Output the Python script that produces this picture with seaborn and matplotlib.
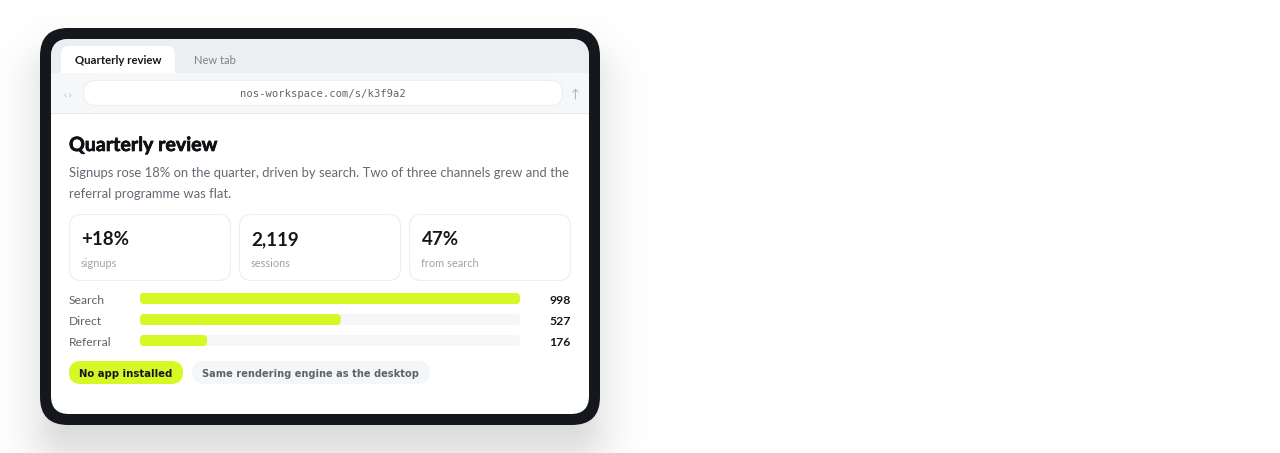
import numpy as np
import pandas as pd
import matplotlib
matplotlib.use("Agg")
import matplotlib.pyplot as plt
import matplotlib.patheffects as pe
from matplotlib.patches import FancyBboxPatch, Rectangle
import seaborn as sns

channels = ["Search", "Direct", "Referral"]
signups = [998, 527, 176]
stat_values = ["+18%", "2,119", "47%"]
stat_labels = ["signups", "sessions", "from search"]
title = "Quarterly review"
lede = ["Signups rose 18% on the quarter, driven by search. Two of three channels grew and the",
        "referral programme was flat."]
url = "nos-workspace.com/s/k3f9a2"
tabs = ["Quarterly review", "New tab"]
chips = ["No app installed", "Same rendering engine as the desktop"]

W, H = 1280, 453
LIME, INK = "#d6f925", "#14181d"
SANS = "Lato"

sns.set_theme(style="white")
plt.rcParams["font.family"] = [SANS, "DejaVu Sans"]
fig = plt.figure(figsize=(W / 100, H / 100), dpi=100, facecolor="white")
ax = fig.add_axes([0, 0, 1, 1])
ax.set_xlim(0, W); ax.set_ylim(H, 0); ax.axis("off")


def rr(x0, y0, x1, y1, r, fc, ec="none", lw=0, z=2):
    p = FancyBboxPatch((x0, y0), x1 - x0, y1 - y0, boxstyle=f"round,pad=0,rounding_size={r}",
                       fc=fc, ec=ec, lw=lw, zorder=z)
    ax.add_patch(p)
    return p


def tx(x, y, s, size, color, weight="normal", ha="left", family=None, stroke=0, **kw):
    t = ax.text(x, y, s, fontsize=size, color=color, fontweight=weight, ha=ha, va="baseline",
                family=family or [SANS, "DejaVu Sans"], zorder=6, **kw)
    if stroke:
        t.set_path_effects([pe.withStroke(linewidth=stroke, foreground=color)])
    return t


# soft drop shadow of the device
xx, yy = np.meshgrid(np.arange(W) + .5, np.arange(H) + .5)
cx, cy, hw, hh, rad = 320, 256, 280, 198, 28
qx, qy = np.abs(xx - cx) - (hw - rad), np.abs(yy - cy) - (hh - rad)
sd = np.hypot(np.maximum(qx, 0), np.maximum(qy, 0)) + np.minimum(np.maximum(qx, qy), 0) - rad
alpha = 0.17 / (1 + np.exp(sd / 14))
rgba = np.zeros((H, W, 4)); rgba[..., :3] = 0.07; rgba[..., 3] = alpha
ax.imshow(rgba, extent=(0, W, H, 0), zorder=0, aspect="auto", interpolation="bilinear")
ax.set_xlim(0, W); ax.set_ylim(H, 0)

# device frame and screen
rr(40, 28, 600, 425, 28, INK, z=1)
screen = rr(51, 39, 589, 414, 18, "white", z=1.5)

# browser chrome
bar = Rectangle((51, 39), 538, 34, fc="#eceef2", ec="none", zorder=1.6)
ax.add_patch(bar); bar.set_clip_path(screen)
rr(61, 46, 175, 90, 8, "white", z=1.7)
tool = Rectangle((51, 73), 538, 40, fc="#f6f7f9", ec="none", zorder=1.8)
ax.add_patch(tool)
ax.add_patch(Rectangle((51, 113), 538, 1, fc="#e8eaed", ec="none", zorder=1.9))
rr(83.5, 80.5, 562.5, 105.5, 12.5, "white", ec="#eceef0", lw=0.8, z=2)

tx(118.5, 64, tabs[0], 8.2, "#14181d", weight="bold", ha="center")
tx(215, 64, tabs[1], 8.0, "#7d838b", ha="center")
tx(68, 98, "‹ ›", 6.5, "#a8adb4", ha="center")
tx(575, 98, "↑", 8.5, "#a8adb4", ha="center")
tx(323, 97, url, 7.6, "#5f666e", ha="center", family="DejaVu Sans Mono")

# headline
tx(69, 151, title, 14.1, "#0e1216", weight="bold", stroke=0.5)
tx(69, 177, lede[0], 9.4, "#636a73")
tx(69, 198.5, lede[1], 9.4, "#636a73")

# stat cards
for x0, val, lab in zip([69, 239, 409], stat_values, stat_labels):
    rr(x0 + .5, 214.5, x0 + 161.5, 280.5, 12, "white", ec="#eceef0", lw=0.8)
    tx(x0 + 12.5, 245, val, 13.5, "#14181d", weight="bold")
    tx(x0 + 12, 267, lab, 7.9, "#9ea3aa")

# channel bars
df = pd.DataFrame({"channel": channels, "signups": signups})
bx = fig.add_axes([140 / W, 1 - 351 / H, 380 / W, 63 / H], zorder=3)
bx.patch.set_alpha(0)
track = df.assign(signups=df["signups"].max())
sns.barplot(data=track, y="channel", x="signups", color="#f5f6f8", width=11 / 21, saturation=1, ax=bx)
n_track = len(bx.patches)
sns.barplot(data=df, y="channel", x="signups", color=LIME, width=11 / 21, saturation=1, ax=bx)
bx.set_xlim(0, max(signups)); bx.set_ylim(2.5, -0.5); bx.axis("off")
fig.canvas.draw()
to_px = ax.transData.inverted()
for i, patch in enumerate(list(bx.patches)):
    (a, b), (c, d) = to_px.transform(patch.get_window_extent())[[0, 1]]
    y0, y1 = min(b, d), max(b, d)
    rr(a, y0, c, y1, 4, patch.get_facecolor(), z=2.5 if i < n_track else 2.6)
    patch.set_visible(False)

for name, val, yc in zip(channels, signups, [304, 325, 346]):
    tx(69, yc, name, 8.7, "#5c636b")
    tx(571, yc, f"{val}", 8.8, "#14181d", weight="bold", ha="right")

# chips
rr(69, 361, 183, 384, 11.5, LIME)
rr(192, 361, 430, 384, 11.5, "#f5f6f8")
tx(125.5, 377, chips[0], 7.3, "#14181d", weight="bold", ha="center", family="DejaVu Sans")
tx(310.5, 377, chips[1], 7.15, "#5c636b", weight="bold", ha="center", family="DejaVu Sans")

fig.savefig("out.png", dpi=100, facecolor="white")
